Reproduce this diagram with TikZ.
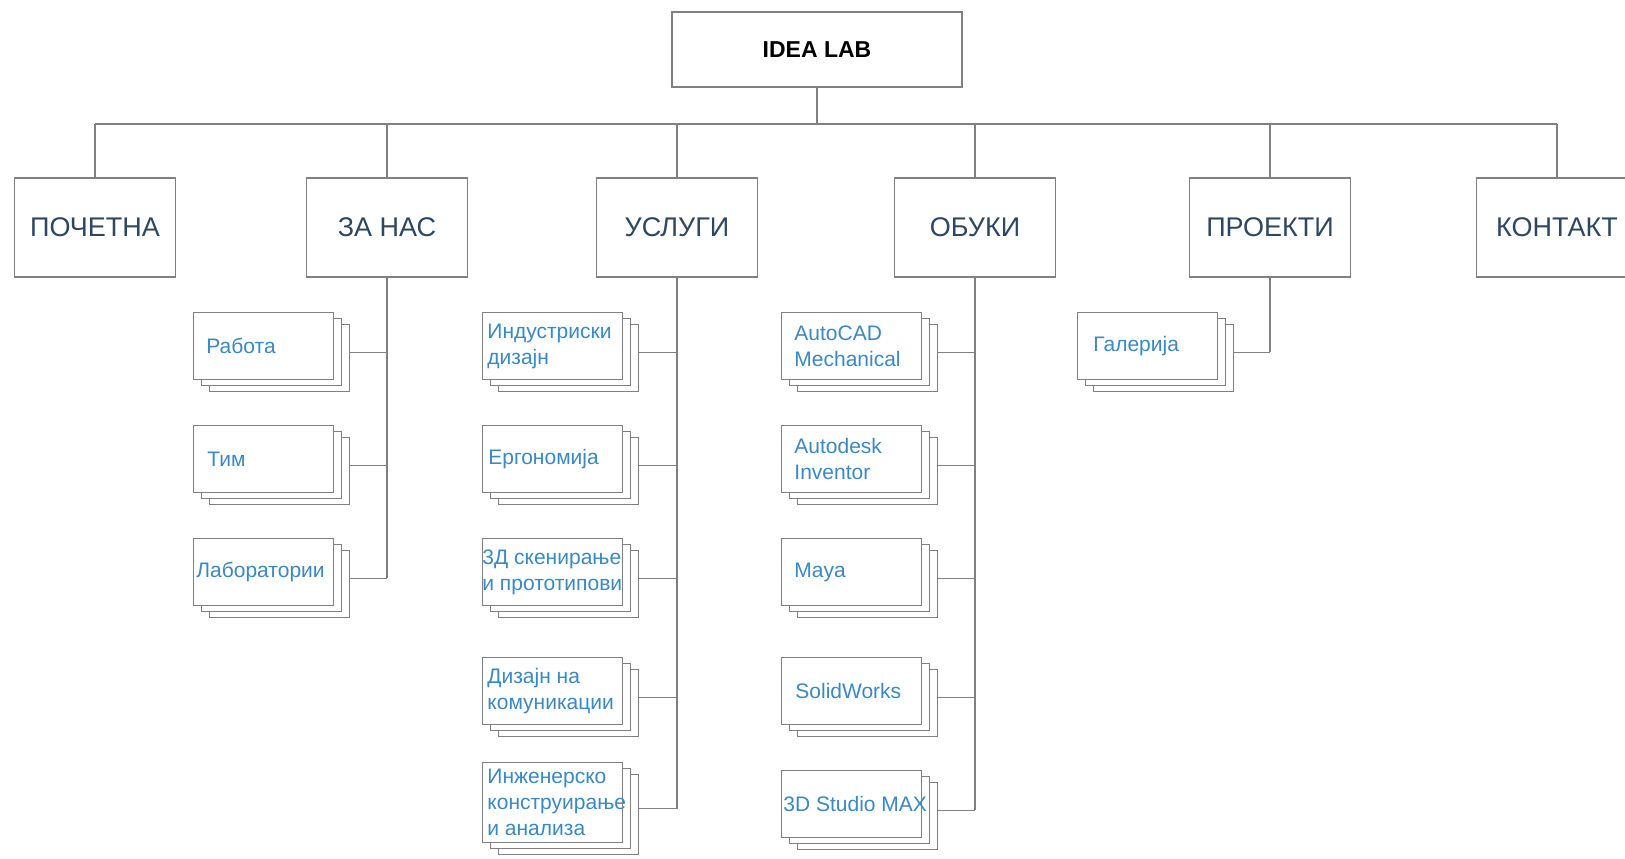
\documentclass[tikz,border=0pt]{standalone}
\usepackage{fontspec}
\setmainfont{Liberation Sans}
\definecolor{linegray}{RGB}{128,128,128}
\definecolor{lvlblue}{RGB}{45,70,98}
\definecolor{childblue}{RGB}{58,136,196}
\newcommand\stk[6]{% name, x0, y0, h(px), pad(px), text
  \node[cbox, anchor=north west, minimum height=#4*0.5pt] (#1c) at (#2+16,#3+12) {};
  \node[cbox, anchor=north west, minimum height=#4*0.5pt] (#1b) at (#2+8,#3+6) {};
  \node[cbox, anchor=north west, minimum height=#4*0.5pt] (#1) at (#2,#3) {};
  \node[ctxt, anchor=west] (#1t) at ([xshift=#5*0.5pt]#1.west) {#6};
}
\begin{document}
\begin{tikzpicture}[x=0.5pt,y=-0.5pt,
  ln/.style={draw=linegray,line width=0.65pt},
  rootbox/.style={ln,fill=white,inner sep=0pt,minimum width=145pt,minimum height=37.5pt,
    font=\fontsize{11.5}{14}\selectfont\bfseries,text=black},
  lonebox/.style={ln,fill=white,inner sep=0pt,minimum width=80.5pt,minimum height=49.5pt,
    font=\fontsize{13.5}{16}\selectfont,text=lvlblue},
  cbox/.style={ln,fill=white,inner sep=0pt,minimum width=70pt},
  ctxt/.style={inner sep=0pt,align=left,font=\fontsize{10.5}{13}\selectfont,text=childblue}]
\useasboundingbox (0,0) rectangle (1625,858);
\clip (0,0) rectangle (1625,858);
\fill[white] (0,0) rectangle (1625,858);

% root
\node[rootbox] (root) at (817,49.5) {IDEA LAB};
\coordinate (busy) at (0,124);
\coordinate (bj) at (root.south |- busy);

% level 1
\node[lonebox] (pocetna) at (95,227.5) {ПОЧЕТНА};
\node[lonebox] (zanas) at (387,227.5) {ЗА НАС};
\node[lonebox] (uslugi) at (677,227.5) {УСЛУГИ};
\node[lonebox] (obuki) at (975,227.5) {ОБУКИ};
\node[lonebox] (proekti) at (1270,227.5) {ПРОЕКТИ};
\node[lonebox] (kontakt) at (1557,227.5) {КОНТАКТ};

\draw[ln] (root.south) -- (bj);
\draw[ln] (pocetna.north |- bj) -- (kontakt.north |- bj);
\foreach \n in {pocetna,zanas,uslugi,obuki,proekti,kontakt}
  \draw[ln] (\n.north |- bj) -- (\n.north);

% ZA NAS children
\stk{rabota}{193}{312}{67}{13}{Работа}
\stk{tim}{193}{425}{67}{14}{Тим}
\stk{lab}{193}{538}{67}{3}{Лаборатории}

% USLUGI children
\stk{ind}{482}{312}{67}{5}{Индустриски\\дизајн}
\stk{erg}{482}{425}{67}{6}{Ергономија}
\stk{skn}{482}{538}{67}{0}{3Д скенирање\\и прототипови}
\stk{kom}{482}{657}{67}{5}{Дизајн на\\комуникации}
\stk{inz}{482}{762}{80}{5}{Инженерско\\конструирање\\и анализа}

% OBUKI children
\stk{acad}{781}{312}{67}{13}{AutoCAD\\Mechanical}
\stk{inv}{781}{425}{67}{13}{Autodesk\\Inventor}
\stk{maya}{781}{538}{67}{13}{Maya}
\stk{sw}{781}{657}{67}{14}{SolidWorks}
\stk{max}{781}{770}{67}{2}{3D Studio MAX}

% PROEKTI children
\stk{gal}{1077}{312}{67}{16}{Галерија}

% verticals
\draw[ln] (zanas.south) -- (zanas.south |- labb.center);
\draw[ln] (uslugi.south) -- (uslugi.south |- inzb.center);
\draw[ln] (obuki.south) -- (obuki.south |- maxb.center);
\draw[ln] (proekti.south) -- (proekti.south |- galb.center);

% horizontals
\foreach \c in {rabota,tim,lab}
  \draw[ln] (\c c.east |- \c b.center) -- (zanas.south |- \c b.center);
\foreach \c in {ind,erg,skn,kom,inz}
  \draw[ln] (\c c.east |- \c b.center) -- (uslugi.south |- \c b.center);
\foreach \c in {acad,inv,maya,sw,max}
  \draw[ln] (\c c.east |- \c b.center) -- (obuki.south |- \c b.center);
\draw[ln] (galc.east |- galb.center) -- (proekti.south |- galb.center);
\end{tikzpicture}
\end{document}
